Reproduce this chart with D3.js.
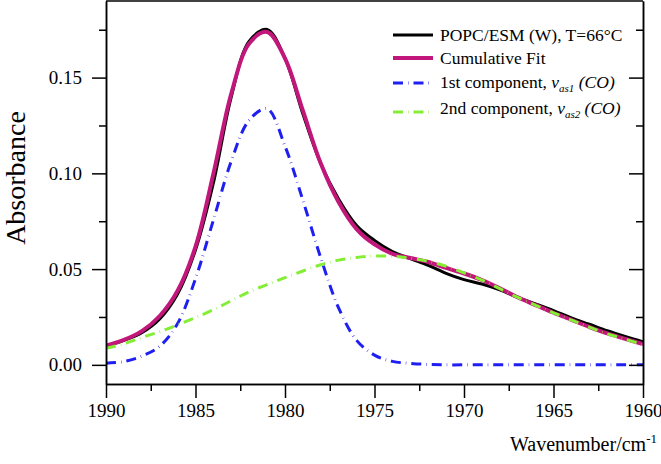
<!DOCTYPE html>
<html><head><meta charset="utf-8">
<script src="https://cdn.jsdelivr.net/npm/d3@7"></script>
<style>
body{margin:0;background:#fff;}
text{font-family:"Liberation Serif","Times New Roman","DejaVu Serif",serif;fill:#000;}
</style></head>
<body>
<svg id="chart" width="661" height="464"></svg>
<script>
const wavenumbers = [1990,1989,1988,1987,1986,1985,1984,1983,1982,1981,1980,1979,1978,1977,1976,1975,1974,1973,1972,1971,1970,1969,1968,1967,1966,1965,1964,1963,1962,1961,1960];
const measured = [0.0100,0.0128,0.0168,0.0240,0.0370,0.0600,0.0950,0.1400,0.1690,0.1752,0.1600,0.1310,0.1050,0.0865,0.0728,0.0650,0.0592,0.0555,0.0520,0.0478,0.0445,0.0422,0.0392,0.0352,0.0318,0.0283,0.0245,0.0212,0.0178,0.0148,0.0120];
const cumulativeFit = [0.0100,0.0130,0.0176,0.0255,0.0387,0.0617,0.0998,0.1417,0.1678,0.1738,0.1600,0.1327,0.1051,0.0849,0.0709,0.0629,0.0580,0.0558,0.0537,0.0506,0.0477,0.0443,0.0400,0.0353,0.0312,0.0272,0.0235,0.0198,0.0164,0.0136,0.0108];
const component1 = [0.0009,0.0017,0.0046,0.0097,0.0216,0.0450,0.0756,0.1064,0.1278,0.1337,0.1142,0.0859,0.0558,0.0296,0.0128,0.0051,0.0018,0.0008,0.0002,0,0,0,0,0,0,0,0,0,0,0,0];
const component2 = [0.0087,0.0110,0.0143,0.0173,0.0209,0.0247,0.0288,0.0335,0.0382,0.0419,0.0455,0.0490,0.0523,0.0547,0.0561,0.0568,0.0567,0.0557,0.0541,0.0515,0.0480,0.0443,0.0398,0.0352,0.0311,0.0272,0.0234,0.0197,0.0162,0.0134,0.0105];
const xMajorTicks = [1990,1985,1980,1975,1970,1965,1960];
const xMinorTicks = [1987.5,1982.5,1977.5,1972.5,1967.5,1962.5];
const yMajorTicks = [0.00,0.05,0.10,0.15];
const yMinorTicks = [0.025,0.075,0.125,0.175];

const FONT = "'Liberation Serif','Times New Roman','DejaVu Serif',serif";
const svg = d3.select("#chart");
const L=106, R=643, T=1, B=384;
const x = d3.scaleLinear().domain([1990,1960]).range([L,R]);
const y = d3.scaleLinear().domain([-0.01,0.19]).range([B,T]);

svg.append("defs").append("clipPath").attr("id","clip")
  .append("rect").attr("x",L).attr("y",T).attr("width",R-L).attr("height",B-T);

const series = [
  {name:"measured", values:measured, color:"#000000", width:3, dash:null},
  {name:"fit", values:cumulativeFit, color:"#C2177A", width:4, dash:null},
  {name:"c1", values:component1, color:"#1F1FF2", width:3, dash:"10,5,0.5,5"},
  {name:"c2", values:component2, color:"#84EE35", width:3, dash:"10,5,0.5,5"}
];
const line = d3.line().curve(d3.curveCatmullRom.alpha(0.5));
const g = svg.append("g").attr("clip-path","url(#clip)");
series.forEach(s=>{
  g.append("path")
    .attr("d", line(wavenumbers.map((w,i)=>[x(w), y(s.values[i])])))
    .attr("fill","none").attr("stroke",s.color).attr("stroke-width",s.width)
    .attr("stroke-linejoin","round")
    .attr("stroke-dasharray",s.dash);
});

function styleAxis(sel){
  sel.attr("font-family",FONT);
  sel.selectAll("path.domain").attr("stroke","#000").attr("stroke-width",1.5);
  sel.selectAll(".tick line").attr("stroke","#000").attr("stroke-width",1.5);
  sel.selectAll(".tick text").attr("font-family",FONT).attr("font-size",19).attr("fill","#000");
}
// bottom
svg.append("g").attr("transform",`translate(0,${B})`)
  .call(d3.axisBottom(x).tickValues(xMajorTicks).tickSize(14).tickSizeOuter(0).tickPadding(6).tickFormat(d3.format("d")))
  .call(styleAxis);
svg.append("g").attr("transform",`translate(0,${B})`)
  .call(d3.axisBottom(x).tickValues(xMinorTicks).tickSize(7).tickSizeOuter(0).tickFormat(""))
  .call(styleAxis);
// left
svg.append("g").attr("transform",`translate(${L},0)`)
  .call(d3.axisLeft(y).tickValues(yMajorTicks).tickSize(14).tickSizeOuter(0).tickPadding(10).tickFormat(d3.format(".2f")))
  .call(styleAxis);
svg.append("g").attr("transform",`translate(${L},0)`)
  .call(d3.axisLeft(y).tickValues(yMinorTicks).tickSize(7).tickSizeOuter(0).tickFormat(""))
  .call(styleAxis);
// right (inward ticks)
svg.append("g").attr("transform",`translate(${R},0)`)
  .call(d3.axisRight(y).tickValues(yMajorTicks).tickSize(-14).tickSizeOuter(0).tickFormat(""))
  .call(styleAxis);
svg.append("g").attr("transform",`translate(${R},0)`)
  .call(d3.axisRight(y).tickValues(yMinorTicks).tickSize(-7).tickSizeOuter(0).tickFormat(""))
  .call(styleAxis);
// top frame
svg.append("line").attr("x1",L).attr("x2",R).attr("y1",T).attr("y2",T).attr("stroke","#000").attr("stroke-width",1.5);

// axis titles
svg.append("text").attr("transform","translate(25,178) rotate(-90)")
  .attr("text-anchor","middle").attr("font-size",28).text("Absorbance");
const xt = svg.append("text").attr("x",657).attr("y",451).attr("text-anchor","end").attr("font-size",20);
xt.append("tspan").text("Wavenumber/cm");
xt.append("tspan").attr("dy",-8).attr("font-size",13).text("-1");

// legend
const legendRows = [
  {color:"#000000", width:3, dash:null, y:35},
  {color:"#C2177A", width:4, dash:null, y:58},
  {color:"#1F1FF2", width:3, dash:"10,5,0.5,5", y:83},
  {color:"#84EE35", width:3, dash:"10,5,0.5,5", y:112}
];
legendRows.forEach(r=>{
  svg.append("line").attr("x1",393).attr("x2",433).attr("y1",r.y).attr("y2",r.y)
    .attr("stroke",r.color).attr("stroke-width",r.width).attr("stroke-dasharray",r.dash);
});
const fs=17.5;
svg.append("text").attr("x",440).attr("y",35+6).attr("font-size",fs).text("POPC/ESM (W), T=66°C");
svg.append("text").attr("x",440).attr("y",58+6).attr("font-size",fs).text("Cumulative Fit");
function compLabel(yy, prefix, sub){
  const t = svg.append("text").attr("x",440).attr("y",yy).attr("font-size",fs);
  t.append("tspan").text(prefix);
  t.append("tspan").attr("font-style","italic").text("ν");
  t.append("tspan").attr("font-style","italic").attr("font-size",11).attr("dy",4).text(sub);
  t.append("tspan").attr("font-style","italic").attr("dy",-4).text(" (CO)");
}
compLabel(83+5, "1st component, ", "as1");
compLabel(112+2, "2nd component, ", "as2");
</script>
</body></html>
